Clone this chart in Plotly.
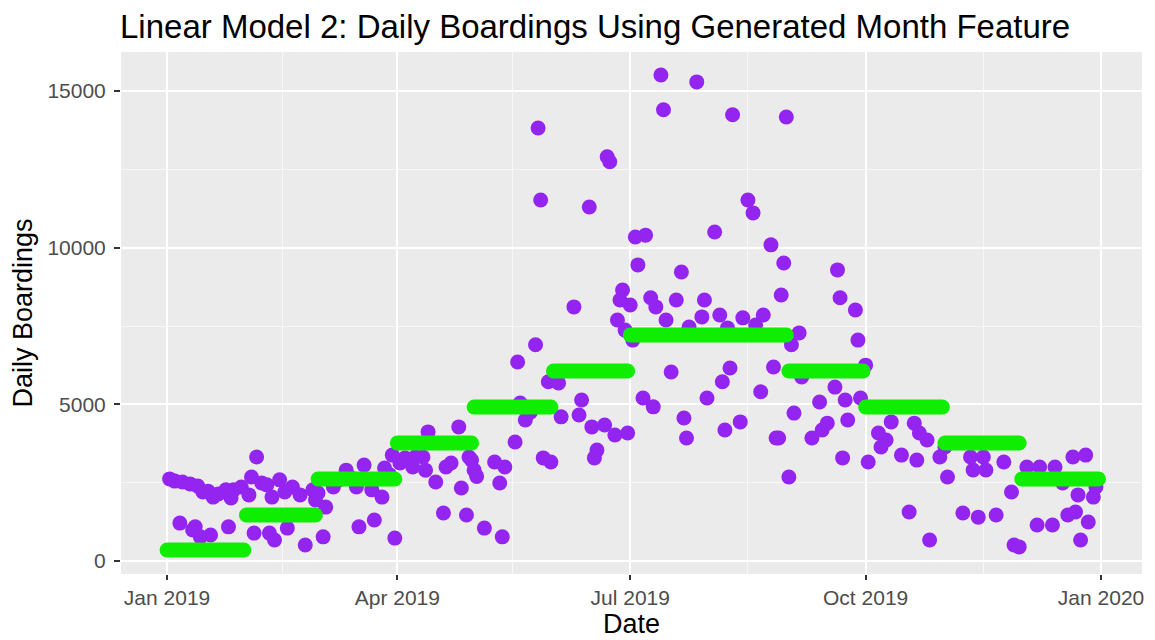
import plotly.graph_objects as go
import pandas as pd

# Observed daily boardings (date, value)
obs_dates = [
    "2019-01-02","2019-01-04","2019-01-07","2019-01-10","2019-01-13","2019-01-15","2019-01-17","2019-01-19",
    "2019-01-21","2019-01-24","2019-01-26","2019-01-27","2019-01-30","2019-01-06","2019-01-12","2019-01-14",
    "2019-01-18","2019-01-25","2019-01-11",
    "2019-02-05","2019-02-03","2019-02-07","2019-02-14","2019-02-19","2019-02-11","2019-02-22","2019-02-09",
    "2019-02-16","2019-02-02","2019-02-27","2019-02-28","2019-02-04","2019-02-10","2019-02-12","2019-02-17",
    "2019-02-24",
    "2019-03-04","2019-03-03","2019-03-17","2019-03-23","2019-03-31","2019-03-01","2019-03-12","2019-03-19",
    "2019-03-27","2019-03-16","2019-03-22","2019-03-26","2019-03-07","2019-03-09","2019-03-14","2019-03-29",
    "2019-03-30",
    "2019-04-02","2019-04-07","2019-04-12","2019-04-16","2019-04-20","2019-04-22","2019-04-13","2019-04-25",
    "2019-04-29","2019-04-26","2019-04-11","2019-04-08","2019-04-19","2019-04-28","2019-04-04","2019-04-30",
    "2019-05-01","2019-05-02","2019-05-05","2019-05-12","2019-05-09","2019-05-13","2019-05-11","2019-05-17",
    "2019-05-18","2019-05-19","2019-05-21","2019-05-23","2019-05-25","2019-05-26","2019-05-27","2019-05-28",
    "2019-05-30","2019-05-31",
    "2019-06-03","2019-06-04","2019-06-09","2019-06-11","2019-06-12","2019-06-15","2019-06-16","2019-06-18",
    "2019-06-17","2019-06-21","2019-06-22","2019-06-23","2019-06-25","2019-06-26","2019-06-27","2019-06-28",
    "2019-06-29","2019-06-30",
    "2019-07-01","2019-07-02","2019-07-03","2019-07-04","2019-07-07","2019-07-06","2019-07-09","2019-07-10",
    "2019-07-11","2019-07-13","2019-07-14","2019-07-15","2019-07-17","2019-07-19","2019-07-21","2019-07-22",
    "2019-07-23","2019-07-24","2019-07-27","2019-07-29","2019-07-30","2019-07-31",
    "2019-08-03","2019-08-05","2019-08-06","2019-08-07","2019-08-08","2019-08-09","2019-08-10","2019-08-13",
    "2019-08-14","2019-08-16","2019-08-18","2019-08-19","2019-08-21","2019-08-22","2019-08-25","2019-08-26",
    "2019-08-27","2019-08-28","2019-08-29","2019-08-30","2019-08-31",
    "2019-09-01","2019-09-02","2019-09-03","2019-09-05","2019-09-06","2019-09-10","2019-09-13","2019-09-14",
    "2019-09-16","2019-09-19","2019-09-20","2019-09-21","2019-09-22","2019-09-23","2019-09-24","2019-09-27",
    "2019-09-28","2019-09-29",
    "2019-10-01","2019-10-02","2019-10-06","2019-10-07","2019-10-09","2019-10-11","2019-10-15","2019-10-18",
    "2019-10-20","2019-10-21","2019-10-22","2019-10-25","2019-10-26","2019-10-30",
    "2019-11-01","2019-11-02","2019-11-08","2019-11-11","2019-11-12","2019-11-14","2019-11-16","2019-11-17",
    "2019-11-21","2019-11-24","2019-11-27","2019-11-28","2019-11-30",
    "2019-12-03","2019-12-07","2019-12-08","2019-12-13","2019-12-14","2019-12-17","2019-12-19","2019-12-21",
    "2019-12-22","2019-12-23","2019-12-24","2019-12-26","2019-12-27","2019-12-29","2019-12-30",
]
obs_boardings = [
    2620,2550,2520,2460,2390,2200,2230,2040,
    2140,2270,2010,2270,2360,1210,1090,770,
    830,1090,990,
    3320,2680,2490,2590,2360,2040,2110,2430,
    2200,2110,2270,1950,890,890,670,1050,
    510,
    1720,770,1090,1310,730,2170,2900,3060,
    2970,2360,2270,2040,2360,2590,2650,2750,
    3380,
    3130,3000,2900,2520,3000,3130,4120,4280,
    3320,2330,3320,3320,1530,1470,3290,3220,
    2900,2700,1050,770,3160,3000,2490,3800,
    6350,5040,4500,4750,6900,13820,11520,3290,
    5720,3160,
    5680,4600,8110,4660,5140,11300,4280,3540,
    3290,4340,12900,12740,4020,7690,8330,8650,
    7370,4085,
    8170,7050,10340,9450,10400,5200,8400,4920,
    8110,15510,14400,7690,6030,8330,9225,4565,
    3925,7470,15290,7790,8330,5200,
    10500,7850,5720,4180,7440,6160,14240,4440,
    7760,11520,11110,7530,5400,7850,10090,6190,
    3925,3925,8490,9510,14170,
    2680,6900,4720,7280,5875,3925,5075,4180,
    4400,5550,9290,8400,3290,5140,4500,8010,
    7050,5200,
    6250,3160,4085,3640,3860,4440,3380,1565,
    4400,3220,4085,3860,670,3320,
    3640,2680,1530,3320,2905,1400,3320,2905,
    1470,3160,2200,510,450,
    3000,1150,3000,1150,3000,2490,1470,3320,
    1565,2110,670,3380,1245,2040,2360,
]

# Model predictions by month (Linear Model 2)
months = ["2019-01","2019-02","2019-03","2019-04","2019-05","2019-06",
          "2019-07","2019-08","2019-09","2019-10","2019-11","2019-12"]
month_pred = [350, 1470, 2615, 3765, 4915, 6065, 7215, 7215, 6065, 4915, 3765, 2615]

pred_dates = []
pred_vals = []
for m, v in zip(months, month_pred):
    p = pd.Period(m, freq="M")
    days = pd.date_range(p.start_time, p.end_time.normalize(), freq="D")
    pred_dates.extend(days)
    pred_vals.extend([v] * len(days))

fig = go.Figure()
fig.add_trace(go.Scatter(
    x=pd.to_datetime(obs_dates), y=obs_boardings, mode="markers",
    marker=dict(color="#9424F0", size=15, line=dict(width=0)),
    showlegend=False, name="Observed"))
fig.add_trace(go.Scatter(
    x=pred_dates, y=pred_vals, mode="markers",
    marker=dict(color="#10EE00", size=15, line=dict(width=0)),
    showlegend=False, name="Predicted"))

FONT = "Liberation Sans, Arial, sans-serif"
tickfont = dict(family=FONT, size=21, color="#4D4D4D")
titlefont = dict(family=FONT, size=27, color="#000000")

# page body adds an 8px offset; margins compensate
fig.update_layout(
    width=1155, height=640,
    margin=dict(l=113, r=21, t=44, b=74),
    paper_bgcolor="#FFFFFF", plot_bgcolor="#EBEBEB",
    title=dict(text="Linear Model 2: Daily Boardings Using Generated Month Feature",
               x=112/1155, xanchor="left", xref="container",
               y=1-18/640, yanchor="middle", yref="container",
               font=dict(family=FONT, size=33, color="#000000")),
    font=dict(family=FONT),
)
fig.update_xaxes(
    type="date", range=["2018-12-14", "2020-01-17"], automargin=False,
    tickvals=["2019-01-01","2019-04-01","2019-07-01","2019-10-01","2020-01-01"],
    ticktext=["Jan 2019","Apr 2019","Jul 2019","Oct 2019","Jan 2020"],
    showgrid=True, gridcolor="#FFFFFF", gridwidth=2,
    minor=dict(showgrid=True, gridcolor="#F7F7F7", gridwidth=1,
               tickvals=["2019-02-15","2019-05-16","2019-08-16","2019-11-16"]),
    ticks="outside", ticklen=5, tickwidth=1.5, tickcolor="#333333",
    tickfont=tickfont, zeroline=False, showline=False,
    title=dict(text="Date", font=titlefont, standoff=2),
)
fig.update_yaxes(
    range=[-415, 16245], automargin=False,
    tickvals=[0, 5000, 10000, 15000],
    ticktext=["0", "5000", "10000", "15000"],
    showgrid=True, gridcolor="#FFFFFF", gridwidth=2,
    minor=dict(showgrid=True, gridcolor="#F7F7F7", gridwidth=1,
               tickvals=[2500, 7500, 12500]),
    ticks="outside", ticklen=6, tickwidth=1.5, tickcolor="#333333",
    ticklabelstandoff=4,
    tickfont=tickfont, zeroline=False, showline=False,
    title=dict(text="Daily Boardings", font=titlefont, standoff=9),
)

fig.write_html("out.html")
